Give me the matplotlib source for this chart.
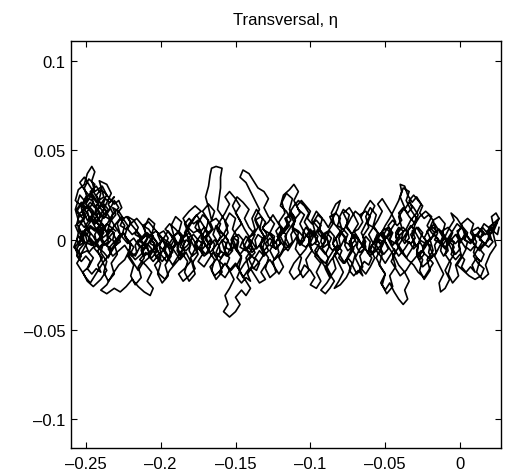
import numpy as np
import matplotlib.pyplot as plt

plt.rcParams['font.family'] = ['Liberation Sans', 'DejaVu Sans']

# trajectory, (x, eta) in units of 1e-3
path_a = [
    (-230, 5), (-236, 9), (-241, 4), (-247, 8), (-252, 3), (-256, 9), (-254, 15), (-249, 18),
    (-244, 14), (-240, 20), (-236, 25), (-239, 30), (-244, 27), (-246, 33), (-244, 38), (-246, 41),
    (-249, 37), (-251, 31), (-255, 28), (-257, 22), (-253, 19), (-250, 24), (-246, 22), (-242, 17),
    (-238, 12), (-234, 17), (-231, 22), (-228, 18), (-233, 13), (-237, 7), (-241, 1), (-246, -3),
    (-251, -1), (-255, 2), (-258, -4), (-254, -8), (-249, -6), (-245, -10), (-248, -15), (-252, -18),
    (-249, -23), (-245, -26), (-240, -22), (-236, -17), (-239, -12), (-242, -6), (-238, -2), (-233, -5),
    (-229, -1), (-232, 4), (-236, 0), (-241, -4), (-245, 2), (-249, 6), (-252, 12), (-256, 16),
    (-253, 20), (-248, 13), (-244, 9), (-240, 14), (-237, 19), (-233, 26), (-236, 31), (-241, 33),
    (-238, 24), (-243, 21), (-247, 26), (-251, 22), (-254, 25), (-257, 17), (-255, 11), (-251, 7),
    (-247, 12), (-243, 6), (-239, 9), (-235, 3), (-231, 8), (-227, 12), (-224, 8), (-226, 2),
    (-222, -2), (-218, 1), (-214, -4), (-217, -9), (-221, -6), (-224, -11), (-228, -14), (-232, -19),
    (-236, -25), (-240, -28), (-236, -30), (-231, -27), (-227, -29), (-223, -26), (-219, -22), (-215, -26),
    (-211, -29), (-207, -31), (-205, -27), (-209, -23), (-206, -18), (-210, -14), (-214, -11), (-210, -7),
    (-206, -10), (-202, -6), (-205, -1), (-209, 3), (-213, 0), (-216, 5), (-220, 9), (-216, 12),
    (-212, 8), (-208, 10), (-204, 6), (-200, 2), (-197, -3), (-200, -8), (-196, -12), (-193, -7),
    (-190, -2), (-193, 3), (-197, 6), (-194, 9), (-190, 6), (-186, 2), (-189, -4), (-186, -9),
    (-190, -13), (-194, -17), (-197, -22), (-201, -19), (-204, -14), (-200, -10), (-203, -4), (-207, -7),
    (-211, -3), (-208, 2), (-203, 5), (-199, 1), (-195, -1), (-191, -6), (-187, -11), (-183, -7),
    (-180, -12), (-184, -16), (-188, -19), (-185, -23), (-181, -20), (-177, -16), (-180, -10), (-177, -5),
    (-180, 0), (-184, 4), (-181, 9), (-177, 13), (-173, 16), (-177, 19), (-181, 16), (-185, 12),
    (-182, 7), (-178, 4), (-174, 6), (-171, 1), (-174, -4), (-170, -8), (-167, -4), (-170, 2),
    (-166, 6), (-169, 12), (-172, 16), (-168, 20), (-164, 16), (-166, 11), (-168, 18), (-170, 24),
    (-168, 30), (-167, 36), (-166, 40), (-163, 41), (-159, 40), (-160, 35), (-160, 29), (-161, 23),
    (-162, 17), (-158, 12), (-155, 8), (-158, 3), (-162, -1), (-165, 3), (-163, 8), (-160, 5),
    (-156, 1), (-153, -4), (-156, -9), (-160, -6), (-163, -11), (-167, -15), (-164, -20), (-160, -17),
    (-157, -13), (-154, -17), (-151, -22), (-154, -27), (-157, -31), (-155, -36), (-158, -40), (-154, -43),
    (-150, -40), (-147, -36), (-150, -32), (-146, -28), (-143, -31), (-140, -27), (-143, -23), (-146, -19),
    (-149, -14), (-146, -9), (-150, -5), (-153, 0), (-150, 5), (-146, 9), (-149, 14), (-152, 19),
    (-149, 24), (-145, 21), (-141, 17), (-144, 12), (-141, 7), (-137, 3), (-140, -2), (-137, -7),
    (-141, -11), (-138, -16), (-134, -12), (-131, -8), (-134, -3), (-131, 2), (-134, 7), (-137, 12),
    (-134, 17), (-137, 22), (-140, 27), (-143, 32), (-147, 35), (-145, 39), (-141, 37), (-138, 33),
    (-135, 29), (-131, 27), (-128, 23), (-131, 18), (-128, 13), (-124, 9), (-127, 4), (-124, -1),
    (-127, -6), (-124, -11), (-120, -8), (-117, -3), (-120, 2), (-117, 7), (-113, 11), (-116, 16),
    (-120, 19), (-118, 25), (-114, 28), (-111, 31), (-108, 27), (-111, 22), (-108, 17), (-104, 14),
    (-107, 9), (-104, 4), (-100, 0), (-103, -5), (-107, -9), (-111, -13), (-114, -18), (-111, -22),
    (-107, -19), (-104, -14), (-100, -17), (-97, -21), (-100, -25), (-96, -27), (-93, -23), (-96, -18),
    (-93, -13), (-97, -9), (-94, -4), (-90, -8), (-87, -3), (-90, 2), (-94, 6), (-98, 10),
    (-95, 14), (-91, 11), (-88, 7), (-85, 12), (-82, 17), (-80, 22), (-83, 20), (-86, 15),
    (-84, 9), (-80, 5), (-77, 1), (-80, -4), (-84, -8), (-81, -13), (-78, -18), (-81, -23),
    (-84, -27), (-80, -25), (-76, -21), (-73, -16), (-76, -11), (-73, -6), (-69, -2), (-72, 3),
    (-76, 7), (-73, 12), (-70, 16), (-66, 13), (-63, 18), (-60, 22), (-57, 19), (-60, 14),
    (-63, 9), (-66, 4), (-63, -1), (-67, -5), (-70, -10), (-67, -15), (-63, -19), (-60, -15),
    (-57, -10), (-60, -5), (-57, 0), (-53, 4), (-50, 0), (-53, -5), (-56, -10), (-53, -15),
    (-50, -19), (-53, -24), (-50, -28), (-47, -24), (-44, -29), (-41, -33), (-38, -36), (-35, -33),
    (-37, -28), (-34, -23), (-37, -18), (-41, -14), (-44, -9), (-47, -5), (-50, -1), (-53, 3),
    (-50, 8), (-47, 12), (-44, 17), (-41, 22), (-39, 27), (-40, 31), (-37, 30), (-35, 25),
    (-32, 21), (-29, 24), (-26, 20), (-29, 15), (-33, 11), (-36, 6), (-40, 3), (-43, -1),
    (-40, -6), (-36, -10), (-33, -6), (-30, -2), (-33, 3), (-29, 7), (-26, 3), (-22, -1),
    (-25, -6), (-28, -10), (-25, -15), (-21, -12), (-18, -8), (-21, -3), (-24, 1), (-21, 6),
    (-17, 9), (-14, 5), (-11, 1), (-14, -4), (-17, -9), (-14, -14), (-11, -19), (-14, -24),
    (-13, -29), (-10, -27), (-7, -22), (-10, -17), (-7, -12), (-4, -8), (-7, -3), (-10, 2),
    (-7, 7), (-4, 11), (-6, 15), (-2, 12), (1, 8), (-2, 3), (1, -1), (4, -5),
    (1, -10), (-2, -14), (2, -17), (6, -20), (10, -22), (14, -20), (16, -16), (12, -13),
    (9, -9), (12, -5), (15, -1), (12, 3), (15, 7), (18, 4), (21, 0), (19, 6),
    (22, 9), (26, 12), (23, 8), (20, 3),
]

path_b = [
    (20, 3), (17, -2), (13, -6), (9, -2), (5, 2), (2, 6), (-2, 9), (-5, 5),
    (-8, 1), (-12, -3), (-15, 1), (-19, 4), (-22, 8), (-19, 13), (-23, 16), (-27, 13),
    (-30, 9), (-34, 13), (-37, 17), (-34, 21), (-31, 18), (-28, 14), (-31, 9), (-35, 5),
    (-38, 1), (-41, -3), (-38, -7), (-35, -11), (-31, -14), (-28, -18), (-24, -21), (-21, -17),
    (-18, -13), (-22, -9), (-26, -6), (-29, -9), (-33, -13), (-36, -17), (-40, -20), (-43, -16),
    (-46, -12), (-43, -7), (-46, -3), (-49, 2), (-46, 6), (-43, 10), (-46, 15), (-49, 19),
    (-52, 23), (-55, 20), (-52, 16), (-55, 11), (-58, 7), (-61, 3), (-58, -2), (-61, -7),
    (-65, -4), (-68, 1), (-71, 5), (-68, 9), (-71, 14), (-74, 18), (-78, 15), (-75, 10),
    (-78, 5), (-82, 2), (-85, -2), (-82, -7), (-86, -11), (-89, -15), (-86, -20), (-89, -24),
    (-93, -28), (-90, -30), (-87, -27), (-84, -23), (-88, -18), (-91, -14), (-94, -10), (-98, -7),
    (-101, -3), (-98, 2), (-101, 6), (-104, 10), (-101, 15), (-104, 19), (-108, 22), (-111, 19),
    (-114, 15), (-111, 10), (-114, 6), (-117, 2), (-114, -3), (-118, -6), (-121, -10), (-118, -15),
    (-121, -19), (-124, -15), (-127, -11), (-130, -14), (-133, -18), (-130, -22), (-134, -24), (-137, -20),
    (-140, -16), (-137, -11), (-141, -7), (-144, -3), (-141, 2), (-144, 6), (-147, 11), (-150, 15),
    (-147, 19), (-150, 23), (-154, 27), (-157, 24), (-154, 20), (-157, 15), (-160, 11), (-163, 7),
    (-160, 2), (-163, -3), (-167, -7), (-170, -3), (-173, 1), (-170, 6), (-173, 10), (-176, 14),
    (-179, 10), (-182, 6), (-179, 1), (-182, -3), (-186, -6), (-189, -10), (-192, -14), (-195, -10),
    (-198, -6), (-202, -2), (-205, -6), (-208, -10), (-212, -13), (-215, -17), (-218, -13), (-221, -9),
    (-218, -4), (-222, 0), (-225, 4), (-228, 0), (-231, -4), (-234, -8), (-238, -12), (-241, -16),
    (-244, -20), (-247, -24), (-250, -21), (-253, -17), (-256, -13), (-253, -9), (-256, -5), (-253, 0),
    (-250, 4), (-247, 0), (-244, -4), (-241, 0), (-238, 4), (-241, 8), (-244, 12), (-247, 16),
    (-250, 20), (-247, 24), (-251, 28), (-254, 32), (-251, 35), (-248, 31), (-245, 27), (-242, 23),
    (-239, 19), (-236, 15), (-233, 11), (-230, 7),
]

path_c = [
    (-230, 7), (-227, 3), (-231, -1), (-235, -5), (-232, -9), (-228, -6), (-224, -3), (-221, -7),
    (-217, -11), (-213, -8), (-210, -4), (-213, 0), (-209, 4), (-205, 1), (-201, -3), (-198, 1),
    (-195, 5), (-192, 1), (-188, -3), (-185, 1), (-181, 4), (-178, 0), (-175, -4), (-172, -8),
    (-175, -12), (-171, -15), (-168, -11), (-165, -7), (-162, -11), (-158, -14), (-161, -18), (-157, -21),
    (-154, -17), (-150, -13), (-147, -17), (-144, -13), (-140, -9), (-143, -5), (-139, -1), (-136, -5),
    (-132, -1), (-129, 3), (-132, 7), (-128, 10), (-125, 14), (-122, 10), (-119, 6), (-122, 2),
    (-119, -2), (-115, -6), (-112, -2), (-109, 2), (-106, -2), (-103, 2), (-100, 6), (-97, 2),
    (-94, -2), (-97, -6), (-94, -10), (-90, -13), (-87, -9), (-84, -5), (-80, -9), (-77, -13),
    (-74, -9), (-71, -5), (-74, -1), (-70, 3), (-67, -1), (-63, -5), (-60, -9), (-57, -5),
    (-53, -9), (-50, -13), (-47, -9), (-44, -5), (-41, -9), (-37, -5), (-34, -1), (-31, -5),
    (-27, -1), (-24, -5), (-21, -1), (-17, 3), (-14, -1), (-10, -5), (-7, -1), (-3, 3),
    (0, -1), (4, 3), (7, -1), (11, 3), (14, 6), (17, 3), (21, 6), (24, 9),
    (26, 12),
]

path_d = [
    (26, 12), (24, 15), (21, 13), (22, 9), (19, 7), (16, 9), (14, 6), (16, 3),
    (13, 1), (10, 3), (8, 0), (10, -3), (7, -6), (4, -4), (5, -1), (2, 1),
    (-1, -1), (0, -5), (-3, -8), (-5, -5), (-4, -1), (-7, 1), (-9, -2), (-8, -6),
    (-11, -9), (-13, -6), (-12, -2), (-15, 0), (-17, -3), (-16, -7), (-19, -10), (-21, -7),
    (-20, -3), (-23, -1), (-25, -4), (-24, -8), (-27, -11), (-29, -8), (-28, -4), (-31, -2),
    (-32, 2), (-30, 5), (-33, 8), (-35, 5), (-34, 1), (-37, -2), (-39, 1), (-38, 5),
    (-41, 7), (-43, 4), (-42, 0), (-45, -3), (-47, 0), (-46, 4), (-49, 6), (-51, 3),
    (-50, -1), (-48, -5), (-51, -8), (-53, -5), (-52, -1), (-55, 1), (-57, -2), (-56, -6),
    (-59, -8), (-61, -5), (-60, -1), (-63, 2), (-65, -1), (-64, -5), (-67, -7), (-69, -4),
    (-68, 0), (-71, 3), (-73, 0), (-72, -4), (-75, -6), (-77, -3), (-76, 1), (-79, 4),
    (-81, 1), (-80, -3), (-83, -5), (-85, -2), (-84, 2), (-87, 5), (-89, 2), (-88, -2),
    (-91, -4), (-93, -1), (-92, 3), (-95, 6), (-97, 3), (-96, -1), (-99, -3), (-101, 0),
    (-100, 4), (-103, 7), (-105, 4), (-104, 0), (-107, -3), (-109, 0), (-108, 4), (-111, 6),
    (-113, 3), (-112, -1), (-115, -4), (-117, -1), (-116, 3), (-119, 5), (-121, 2), (-120, -2),
    (-123, -5), (-125, -2), (-124, 2), (-127, 4), (-129, 1), (-128, -3), (-131, -6), (-133, -3),
    (-132, 1), (-135, 3), (-137, 0), (-136, -4), (-139, -7), (-141, -4), (-140, 0), (-143, 2),
    (-145, -1), (-144, -5), (-147, -8), (-149, -5), (-148, -1), (-151, 1), (-153, -2), (-152, -6),
    (-155, -9), (-157, -6), (-156, -2), (-159, 0), (-161, -3), (-160, -7), (-163, -9), (-165, -6),
    (-164, -2), (-167, 0), (-169, -3), (-168, -7), (-171, -9), (-173, -6), (-172, -2), (-175, 0),
    (-177, -3), (-176, -7), (-179, -9), (-181, -6), (-180, -2), (-183, 0), (-185, -3), (-184, -7),
    (-187, -9), (-189, -6), (-188, -2), (-191, 0), (-193, -3), (-192, -7), (-195, -9), (-197, -6),
    (-196, -2), (-199, 0), (-201, -3), (-200, -7), (-203, -9), (-205, -6), (-204, -2), (-207, 0),
    (-209, -3), (-208, -7), (-211, -9), (-213, -6), (-212, -2), (-215, 0), (-217, -3), (-216, -7),
    (-219, -9), (-221, -6), (-220, -2), (-223, 1), (-225, 4), (-228, 2), (-227, -1), (-230, -3),
    (-232, 0), (-231, 4), (-234, 6), (-236, 3), (-235, -1), (-238, -3), (-240, 0), (-239, 4),
    (-242, 6), (-244, 3), (-243, -1), (-246, -3), (-248, 0), (-247, 4), (-250, 6), (-252, 3),
    (-251, -1), (-254, -3), (-256, 0), (-255, 4), (-257, 8), (-254, 10),
]

path_e = [
    (-254, 10), (-250, 13), (-252, 17), (-248, 19), (-245, 16), (-247, 12), (-243, 10), (-240, 13),
    (-242, 17), (-238, 20), (-235, 17), (-237, 13), (-233, 11), (-230, 14), (-232, 18), (-228, 16),
    (-225, 12), (-227, 8), (-223, 6), (-220, 9), (-222, 13), (-218, 11), (-215, 7), (-217, 3),
    (-213, 1), (-210, 4), (-212, 8), (-208, 6), (-205, 2), (-207, -2), (-203, -4), (-200, -1),
    (-202, 3), (-198, 5), (-195, 1), (-197, -3), (-193, -5), (-190, -2), (-192, 2), (-188, 4),
    (-185, 0), (-187, -4), (-183, -6), (-180, -3), (-182, 1), (-178, 3), (-175, 0), (-177, -4),
    (-173, -6), (-170, -3), (-172, 1), (-168, 3), (-165, 6), (-167, 10), (-163, 12), (-160, 9),
    (-162, 5), (-158, 3), (-155, 0), (-157, -4), (-153, -6), (-150, -3), (-152, 1), (-148, 3),
    (-145, 0), (-147, -4), (-143, -6), (-140, -3), (-142, 1), (-138, 3), (-135, 7), (-137, 11),
    (-133, 13), (-130, 10), (-132, 6), (-128, 4), (-125, 1), (-127, -3), (-123, -5), (-120, -2),
    (-122, 2), (-118, 4), (-115, 8), (-117, 12), (-113, 14), (-110, 11), (-112, 7), (-108, 5),
    (-105, 2), (-107, -2), (-103, -4), (-100, -1), (-102, 3), (-98, 5), (-95, 2), (-97, -2),
    (-93, -4), (-90, -1), (-92, 3), (-88, 5), (-85, 9), (-87, 13), (-83, 15), (-80, 12),
    (-82, 8), (-78, 6), (-75, 3), (-77, -1), (-73, -3), (-70, 0), (-72, 4), (-68, 6),
    (-65, 10), (-67, 14), (-63, 16), (-60, 13), (-62, 9), (-58, 7), (-55, 4), (-57, 0),
    (-53, -2), (-50, 1), (-52, 5), (-48, 7), (-45, 4), (-47, 0), (-43, -2), (-40, 1),
    (-42, 5), (-38, 7), (-35, 4), (-37, 0), (-33, -2), (-30, 1), (-32, 5), (-28, 7),
    (-25, 4), (-27, 0), (-23, -2), (-20, 1), (-22, 5), (-18, 7), (-15, 4), (-17, 0),
    (-13, -2), (-10, 1), (-12, 5), (-8, 7), (-5, 4), (-7, 0), (-3, -2), (0, 1),
    (-2, 5), (2, 7), (5, 4), (3, 0), (7, -2), (10, 1), (8, 5), (12, 7),
    (15, 4), (13, 0), (17, -2), (20, 1), (18, 5), (22, 7), (25, 10),
]

path_f = [
    (25, 10), (22, 4), (24, -3), (20, -8), (17, -14), (19, -19), (15, -22), (11, -18),
    (13, -12), (9, -7), (11, -1), (7, 4), (9, 9), (5, 12), (1, 9), (3, 3),
    (-1, -3), (1, -9), (-3, -14), (-1, -20), (-5, -24), (-8, -19), (-6, -13), (-10, -8),
    (-8, -2), (-12, 3), (-10, 9), (-14, 13), (-18, 11), (-16, 5), (-20, 0), (-18, -6),
    (-22, -11), (-20, -17), (-24, -22), (-27, -17), (-25, -11), (-29, -6), (-27, 0), (-31, 6),
    (-29, 12), (-33, 17), (-36, 22), (-34, 27), (-38, 29), (-40, 24), (-37, 18), (-41, 13),
    (-39, 7), (-43, 2), (-41, -4), (-45, -9), (-43, -15), (-47, -20), (-45, -26), (-49, -30),
    (-52, -25), (-50, -19), (-54, -14), (-52, -8), (-56, -3), (-54, 3), (-58, 8), (-56, 14),
    (-60, 18), (-63, 13), (-61, 7), (-65, 2), (-63, -4), (-67, -9), (-65, -15), (-69, -19),
    (-72, -14), (-70, -8), (-74, -3), (-72, 3), (-76, 8), (-74, 14), (-78, 17), (-81, 12),
    (-79, 6), (-83, 1), (-81, -5), (-85, -10), (-83, -16), (-87, -21), (-90, -16), (-88, -10),
    (-92, -5), (-90, 1), (-94, 6), (-92, 12), (-96, 16), (-99, 11), (-97, 5), (-101, 0),
    (-99, -6), (-103, -11), (-101, -17), (-105, -21), (-108, -16), (-106, -10), (-110, -5), (-108, 1),
    (-112, 6), (-110, 12), (-114, 17), (-112, 23), (-116, 26), (-119, 21), (-117, 15), (-121, 10),
    (-119, 4), (-123, -1), (-121, -7), (-125, -12), (-123, -18), (-127, -21), (-130, -16), (-128, -10),
    (-132, -5), (-130, 1), (-134, 6), (-132, 12), (-136, 17), (-139, 12), (-137, 6), (-141, 1),
    (-139, -5), (-143, -10), (-141, -16), (-145, -21), (-148, -16), (-146, -10), (-150, -5), (-148, 1),
    (-152, 6), (-150, 12), (-154, 15), (-157, 10), (-155, 4), (-159, -1), (-157, -7), (-161, -12),
    (-159, -18), (-163, -22), (-166, -17), (-164, -11), (-168, -6), (-166, 0), (-170, 5), (-168, 11),
    (-172, 14), (-175, 9), (-173, 3), (-177, -2), (-175, -8), (-179, -13), (-177, -19), (-181, -23),
    (-184, -18), (-182, -12), (-186, -7), (-184, -1), (-188, 4), (-186, 10), (-190, 13), (-193, 8),
    (-191, 2), (-195, -3), (-193, -9), (-197, -14), (-195, -20), (-199, -24), (-202, -19), (-200, -13),
    (-204, -8), (-202, -2), (-206, 3), (-204, 9), (-208, 12), (-211, 7), (-209, 1), (-213, -4),
    (-211, -10), (-215, -15), (-213, -21), (-217, -25), (-220, -20), (-218, -14), (-222, -9), (-220, -3),
    (-224, 2), (-222, 8), (-226, 13), (-229, 9), (-227, 3), (-231, -2), (-229, -8), (-233, -13),
    (-231, -19), (-235, -23), (-238, -18), (-236, -12), (-240, -7), (-238, -1), (-242, 4), (-240, 10),
    (-244, 15), (-242, 21), (-246, 26), (-244, 31), (-248, 34), (-251, 29), (-249, 23), (-253, 18),
    (-251, 12), (-255, 7), (-253, 1), (-257, -4), (-255, -10), (-252, -6), (-249, -1), (-251, 5),
    (-247, 10), (-249, 16), (-245, 21), (-247, 27), (-243, 30), (-240, 26), (-242, 20), (-238, 15),
    (-240, 9), (-236, 4), (-234, 9), (-232, 15), (-235, 20), (-231, 24),
]

path_g = [
    (-231, 24), (-234, 21), (-237, 23), (-239, 19), (-236, 16), (-239, 13), (-242, 15), (-244, 11),
    (-241, 8), (-244, 5), (-247, 7), (-249, 3), (-252, 5), (-254, 1), (-251, -2), (-254, -5),
    (-256, -9), (-253, -12), (-250, -9), (-247, -12), (-249, -16), (-246, -19), (-243, -16), (-240, -18),
    (-242, -14), (-239, -10), (-242, -7), (-245, -4), (-248, -7), (-250, -3), (-247, 1), (-244, -2),
    (-241, -5), (-238, -7), (-235, -10), (-233, -6), (-236, -3), (-233, 0), (-236, 3), (-239, 1),
    (-241, 5), (-238, 8), (-241, 11), (-244, 9), (-246, 13), (-249, 11), (-251, 15), (-254, 13),
    (-256, 17), (-253, 21), (-250, 18), (-247, 21), (-244, 18), (-241, 21), (-243, 25), (-240, 28),
    (-237, 26), (-234, 23), (-231, 20), (-228, 22), (-226, 18), (-229, 15), (-226, 11), (-223, 13),
    (-220, 10), (-222, 6), (-219, 3), (-216, 5), (-213, 2), (-215, -2), (-212, -5), (-209, -2),
    (-206, -5), (-208, -9), (-205, -12), (-202, -9), (-199, -12), (-196, -9), (-198, -5), (-195, -2),
    (-192, -5), (-189, -2), (-191, 2), (-188, 5), (-185, 2), (-182, 5), (-184, 9), (-181, 12),
    (-178, 9), (-175, 11), (-177, 7), (-174, 4), (-171, 7), (-168, 4), (-170, 0), (-167, -3),
    (-164, 0), (-161, -3), (-163, -7), (-160, -10), (-157, -7), (-154, -10), (-156, -14), (-153, -17),
    (-150, -14), (-147, -17), (-149, -21), (-146, -24), (-143, -21), (-140, -23), (-142, -19), (-139, -15),
    (-136, -17), (-134, -13), (-137, -10), (-134, -6), (-131, -9), (-128, -6), (-130, -2), (-127, 1),
    (-124, -2), (-121, 1), (-123, 5), (-120, 8), (-117, 5), (-114, 8), (-116, 12), (-113, 15),
    (-110, 12), (-107, 15), (-109, 19), (-106, 22), (-103, 19), (-100, 16), (-102, 12), (-99, 9),
    (-96, 11), (-93, 8), (-95, 4), (-92, 1), (-89, 4), (-86, 1), (-88, -3), (-85, -6),
    (-82, -3), (-79, -6), (-81, -10), (-78, -13), (-75, -10), (-72, -13), (-74, -17), (-71, -20),
    (-68, -17), (-65, -20), (-67, -16), (-64, -12), (-61, -14), (-59, -10), (-62, -7), (-59, -3),
    (-56, -6), (-53, -3), (-55, 1), (-52, 4), (-49, 1), (-46, 4), (-48, 8), (-45, 11),
    (-42, 8), (-39, 11), (-41, 15), (-38, 18), (-35, 15), (-32, 18), (-34, 22), (-31, 25),
    (-28, 22), (-25, 19), (-27, 15), (-24, 12), (-21, 14), (-18, 11), (-20, 7), (-17, 4),
    (-14, 6), (-11, 3), (-13, -1), (-10, -4), (-7, -1), (-4, -4), (-6, -8), (-3, -11),
    (0, -8), (3, -11), (1, -15), (4, -18), (7, -15), (10, -18), (8, -14), (11, -10),
    (14, -12), (16, -8), (13, -5), (16, -2), (19, -4), (22, -1), (19, 2), (22, 5),
    (25, 3), (26, 7),
]

x_ticks = [-0.25, -0.2, -0.15, -0.1, -0.05, 0]
x_labels = ['-0.25', '-0.2', '-0.15', '-0.1', '-0.05', '0']
y_ticks = [-0.1, -0.05, 0, 0.05, 0.1]
y_labels = ['-0.1', '-0.05', '0', '0.05', '0.1']

pts = np.array(path_a + path_b + path_c + path_d + path_e + path_f + path_g,
               dtype=float) / 1000.0

fig = plt.figure(figsize=(5.06, 4.77), dpi=100)
ax = fig.add_axes([0.140, 0.059, 0.850, 0.853])
ax.plot(pts[:, 0], pts[:, 1], color='black', lw=1.2, solid_joinstyle='round')

ax.set_xlim(-0.26, 0.0273)
ax.set_ylim(-0.116, 0.111)
ax.set_xticks(x_ticks)
ax.set_xticklabels([s.replace('-', '\u2013') for s in x_labels])
ax.set_yticks(y_ticks)
ax.set_yticklabels([s.replace('-', '\u2013') for s in y_labels])
ax.tick_params(direction='in', length=4, width=0.8, top=True, right=True, labelsize=12)
ax.tick_params(axis='x', pad=6)
ax.tick_params(axis='y', pad=4)
for sp in ax.spines.values():
    sp.set_linewidth(1.0)
ax.set_title('Transversal, \u03b7', fontsize=12, pad=12)

fig.savefig('out.png', dpi=100)
